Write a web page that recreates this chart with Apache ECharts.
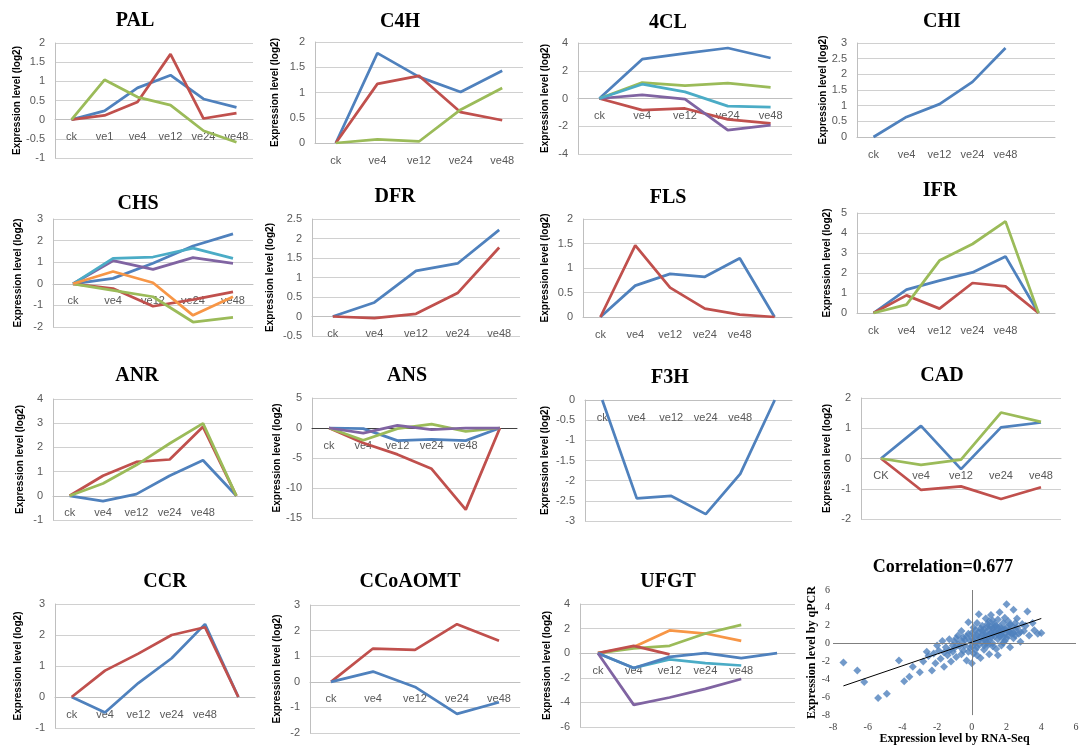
<!DOCTYPE html>
<html><head><meta charset="utf-8">
<script src="https://cdn.jsdelivr.net/npm/echarts@6/dist/echarts.min.js"></script>
<style>html,body{margin:0;padding:0;background:#fff}#c{width:1082px;height:746px}</style>
</head><body><div id="c"></div>
<script>
// ---- categories ----
const cats6 = ['ck','ve1','ve4','ve12','ve24','ve48'];
const cats5 = ['ck','ve4','ve12','ve24','ve48'];
const cats5e = ['ck','ve4','ve12','ve24','ve48',''];
const catsCAD = ['CK','ve4','ve12','ve24','ve48'];

// ---- series values (log2 expression) ----
const palBlue  = [0, 0.23, 0.83, 1.16, 0.54, 0.32];
const palRed   = [0, 0.11, 0.46, 1.71, 0.03, 0.17];
const palGreen = [0, 1.04, 0.59, 0.38, -0.29, -0.59];

const c4hBlue  = [0, 1.78, 1.31, 1.01, 1.43];
const c4hRed   = [0, 1.17, 1.33, 0.61, 0.45];
const c4hGreen = [0, 0.07, 0.03, 0.66, 1.09];

const cl4Blue   = [0, 2.83, 3.25, 3.64, 2.92];
const cl4Red    = [0, -0.84, -0.72, -1.51, -1.8];
const cl4Green  = [0, 1.15, 0.93, 1.1, 0.81];
const cl4Purple = [0, 0.26, -0.05, -2.28, -1.92];
const cl4Teal   = [0, 1.03, 0.48, -0.55, -0.62];

const chiBlue = [0, 0.64, 1.05, 1.76, 2.84, null];

const chsBlue   = [0, 0.25, 0.95, 1.75, 2.31];
const chsRed    = [0, -0.22, -1.04, -0.73, -0.37];
const chsGreen  = [0, -0.3, -0.6, -1.77, -1.55];
const chsPurple = [0, 1.07, 0.67, 1.21, 0.95];
const chsTeal   = [0, 1.18, 1.24, 1.65, 1.18];
const chsOrange = [0, 0.57, 0.05, -1.46, -0.6];

const dfrBlue = [0, 0.36, 1.17, 1.36, 2.22];
const dfrRed  = [0, -0.04, 0.07, 0.6, 1.77];

const flsBlue = [0, 0.64, 0.88, 0.82, 1.2, 0];
const flsRed  = [0, 1.46, 0.6, 0.17, 0.05, 0];

const ifrBlue  = [0, 1.17, 1.62, 2.03, 2.83, 0];
const ifrRed   = [0, 0.88, 0.22, 1.5, 1.33, 0];
const ifrGreen = [0, 0.42, 2.62, 3.45, 4.58, 0];

const anrBlue  = [0, -0.22, 0.07, 0.83, 1.47, 0];
const anrRed   = [0, 0.83, 1.4, 1.5, 2.85, 0];
const anrGreen = [0, 0.51, 1.27, 2.16, 2.99, 0];

const ansBlue   = [0, -0.1, -2.1, -1.9, -2.1, 0];
const ansRed    = [0, -2.5, -4.4, -6.8, -13.6, 0];
const ansGreen  = [0, -2.05, -0.1, 0.65, -0.55, 0];
const ansPurple = [0, -0.85, 0.45, -0.28, 0, 0];

const f3hBlue = [0, -2.44, -2.38, -2.83, -1.83, 0];

const cadBlue  = [0, 1.08, -0.35, 1.03, 1.19];
const cadRed   = [0, -1.04, -0.92, -1.34, -0.95];
const cadGreen = [0, -0.21, -0.04, 1.52, 1.21];

const ccrBlue = [0, -0.5, 0.45, 1.25, 2.35, 0];
const ccrRed  = [0, 0.85, 1.4, 2.0, 2.25, 0];

const ccoRed  = [0, 1.3, 1.25, 2.25, 1.6];
const ccoBlue = [0, 0.4, -0.2, -1.25, -0.8];

const ufgtBlue   = [0, -1.2, -0.3, 0, -0.4, 0];
const ufgtRed    = [0, 0.6, -0.1, null, null, null];
const ufgtGreen  = [0, 0.4, 0.6, 1.6, 2.3, null];
const ufgtPurple = [0, -4.2, -3.6, -2.9, -2.1, null];
const ufgtTeal   = [0, -1.2, -0.5, -0.8, -1.0, null];
const ufgtOrange = [0, 0.5, 1.85, 1.6, 1.0, null];

// scatter: [RNA-Seq, qPCR]
const corrPoints = [
 [-7.4,-2.1],[-6.6,-3.0],[-6.2,-4.3],[-5.4,-6.1],[-4.9,-5.6],[-3.9,-4.2],[-3.6,-3.7],[-3.4,-2.6],[-4.2,-1.9],[-3.0,-3.2],
 [-2.8,-2.0],[-2.5,-1.4],[-2.3,-3.0],[-2.1,-2.2],[-1.9,-0.8],[-1.8,-1.7],[-1.6,-2.6],[-1.5,-0.4],[-1.4,-1.3],[-1.3,0.5],
 [-1.2,-2.0],[-1.1,-0.9],[-1.0,0.2],[-0.9,-1.5],[-0.8,0.9],[-0.7,-0.3],[-0.6,1.4],[-0.5,-0.8],[-0.4,0.4],[-0.3,-1.9],
 [-0.2,1.1],[-0.1,-0.5],[0,0.6],[0.1,1.8],[0.1,-1.1],[0.2,0.1],[0.3,2.3],[0.3,-0.4],[0.4,1.3],[0.5,0.7],
 [0.5,-1.6],[0.6,2.0],[0.6,0.2],[0.7,-0.7],[0.7,1.6],[0.8,2.8],[0.8,0.9],[0.9,-0.2],[0.9,1.9],[1.0,0.4],
 [1.0,2.5],[1.0,-1.2],[1.1,1.2],[1.1,3.2],[1.2,0.0],[1.2,1.7],[1.3,2.2],[1.3,0.8],[1.4,-0.6],[1.4,1.4],
 [1.5,2.7],[1.5,0.5],[1.6,1.9],[1.6,3.5],[1.7,1.0],[1.7,-0.2],[1.8,2.3],[1.8,1.5],[1.9,0.3],[1.9,2.9],
 [2.0,1.8],[2.0,4.4],[2.1,0.9],[2.1,2.5],[2.2,1.3],[2.2,-0.4],[2.3,2.0],[2.4,0.6],[2.5,1.6],[2.6,2.8],
 [2.7,1.1],[2.8,0.2],[2.9,2.2],[3.0,1.4],[3.2,3.6],[3.3,0.9],[3.5,2.3],[3.6,1.5],[3.8,1.1],[4.0,1.2],
 [-0.2,2.4],[0.0,-2.2],[0.4,3.3],[1.5,-1.3],[2.4,3.8],[-2.0,-0.2],[-2.6,-0.9],[-1.7,0.3],[-0.9,0.6],[0.2,1.5],
 [0.8,1.2],[1.1,0.7],[1.3,1.9],[1.6,1.3],[1.9,1.1],[0.6,1.0],[0.3,0.9],[-0.4,-0.2],[1.2,2.6],[0.9,0.1],
 [-0.6,0.3],[-0.3,0.8],[0.0,1.2],[0.2,-0.7],[0.4,0.4],[0.7,0.5],[1.0,1.6],[1.2,1.0],[1.4,2.0],[1.7,1.7],
 [2.0,0.6],[2.3,1.1],[2.5,2.3],[1.5,1.1],[0.9,2.2],[0.5,1.7],[0.1,0.2],[-0.2,-0.9],[-1.0,-0.5],[-1.3,-0.8],
 [-0.8,-0.1],[-0.5,0.7],[-0.1,0.3],[0.2,0.8],[0.4,-0.1],[0.6,1.4],[0.8,0.4],[1.0,1.0],[1.1,1.9],[1.3,1.3],
 [1.5,1.7],[1.6,0.8],[1.8,0.7],[1.9,1.6],[2.1,1.4],[2.2,2.1],[2.4,1.2],[2.6,1.8],[2.8,1.3],[3.1,2.0],
 [-1.6,-1.0],[-2.2,-1.1],[-1.1,-0.2],[-0.6,-1.2],[0.0,-0.3],[0.3,-1.3],[0.7,-0.2],[1.2,-0.3],[1.8,0.1],[2.5,0.9]
];

const COL = {blue:'#4F81BD', red:'#C0504D', green:'#9BBB59', purple:'#8064A2', teal:'#4BACC6', orange:'#F79646'};

const panels = [
 {t:'PAL', cats:cats6, min:-1, max:2, iv:0.5, s:[[palBlue,'blue'],[palRed,'red'],[palGreen,'green']]},
 {t:'C4H', cats:cats5, min:0, max:2, iv:0.5, s:[[c4hBlue,'blue'],[c4hRed,'red'],[c4hGreen,'green']]},
 {t:'4CL', cats:cats5, min:-4, max:4, iv:2, s:[[cl4Blue,'blue'],[cl4Red,'red'],[cl4Green,'green'],[cl4Purple,'purple'],[cl4Teal,'teal']]},
 {t:'CHI', cats:cats5e, min:0, max:3, iv:0.5, s:[[chiBlue,'blue']]},
 {t:'CHS', cats:cats5, min:-2, max:3, iv:1, s:[[chsBlue,'blue'],[chsRed,'red'],[chsGreen,'green'],[chsPurple,'purple'],[chsTeal,'teal'],[chsOrange,'orange']]},
 {t:'DFR', cats:cats5, min:-0.5, max:2.5, iv:0.5, s:[[dfrBlue,'blue'],[dfrRed,'red']]},
 {t:'FLS', cats:cats5e, min:0, max:2, iv:0.5, s:[[flsBlue,'blue'],[flsRed,'red']]},
 {t:'IFR', cats:cats5e, min:0, max:5, iv:1, s:[[ifrBlue,'blue'],[ifrRed,'red'],[ifrGreen,'green']]},
 {t:'ANR', cats:cats5e, min:-1, max:4, iv:1, s:[[anrBlue,'blue'],[anrRed,'red'],[anrGreen,'green']]},
 {t:'ANS', cats:cats5e, min:-15, max:5, iv:5, dark:true, s:[[ansBlue,'blue'],[ansRed,'red'],[ansGreen,'green'],[ansPurple,'purple']]},
 {t:'F3H', cats:cats5e, min:-3, max:0, iv:0.5, s:[[f3hBlue,'blue']]},
 {t:'CAD', cats:catsCAD, min:-2, max:2, iv:1, s:[[cadBlue,'blue'],[cadRed,'red'],[cadGreen,'green']]},
 {t:'CCR', cats:cats5e, min:-1, max:3, iv:1, s:[[ccrBlue,'blue'],[ccrRed,'red']]},
 {t:'CCoAOMT', cats:cats5, min:-2, max:3, iv:1, s:[[ccoRed,'red'],[ccoBlue,'blue']]},
 {t:'UFGT', cats:cats5e, min:-6, max:4, iv:2, s:[[ufgtOrange,'orange'],[ufgtGreen,'green'],[ufgtRed,'red'],[ufgtTeal,'teal'],[ufgtBlue,'blue'],[ufgtPurple,'purple']]}
];

// layout: [left, top, width, height, titleX, titleY, nameGap]
const layout = [
 [55,43,198,115,130,17,33],[315,42,208,101,395,18,35],[578,43,214,111,663,19,28],[857,43,198,94,937,18,19],
 [53,219,200,108,133,200,30],[312,219,208,117,390,193,37],[583,219,209,98,663,194,33],[857,213,198,100,935,187,25],
 [53,399,200,121,132,372,28],[312,398,205,120,402,372,29],[585,400,207,121,665,374,35],[861,398,200,121,937,372,29],
 [55,604,200,124,160,578,32],[310,605,210,128,405,578,28],[580,604,215,123,663,578,28]
];

const grids=[], xAxes=[], yAxes=[], series=[], titles=[];
const tickFont = {color:'#595959', fontSize:11, fontFamily:'Liberation Sans'};
panels.forEach((p,i)=>{
  const L = layout[i];
  grids.push({left:L[0], top:L[1], width:L[2], height:L[3], containLabel:false});
  titles.push({text:p.t, left:L[4], top:L[5]-11, textAlign:'center',
    textStyle:{fontFamily:'Liberation Serif', fontWeight:'bold', fontSize:20, color:'#000'}});
  // category axis sits on the value 0 line (Excel style)
  const zeroShift = -L[3] * (Math.min(Math.max(0, p.min), p.max) - p.min) / (p.max - p.min);
  xAxes.push({gridIndex:i, type:'category', data:p.cats, boundaryGap:true, position:'bottom', offset:zeroShift,
    axisLine:{onZero:false, lineStyle:{color:p.dark?'#404040':'#BFBFBF', width:1}},
    axisTick:{show:false}, splitLine:{show:false},
    axisLabel:Object.assign({interval:0, margin:12}, tickFont)});
  yAxes.push({gridIndex:i, type:'value', min:p.min, max:p.max, interval:p.iv,
    axisLine:{show:true, lineStyle:{color:'#BFBFBF'}}, axisTick:{show:false},
    splitLine:{show:true, lineStyle:{color:'#D0D0D0', width:1}},
    axisLabel:Object.assign({margin:10}, tickFont),
    name:'Expression level (log2)', nameLocation:'middle', nameGap:L[6],
    nameTextStyle:{fontFamily:'Liberation Sans Narrow, Liberation Sans', fontWeight:'bold', fontSize:10, color:'#000'}});
  p.s.forEach(([arr,c])=>{
    series.push({type:'line', xAxisIndex:i, yAxisIndex:i, data:arr, symbol:'none',
      connectNulls:false, lineStyle:{color:COL[c], width:2.75}, itemStyle:{color:COL[c]}, silent:true, z:3});
  });
});

// correlation scatter panel
const si = panels.length;
grids.push({left:833, top:590, width:243, height:132});
titles.push({text:'Correlation=0.677', left:938, top:553, textAlign:'center',
  textStyle:{fontFamily:'Liberation Serif', fontWeight:'bold', fontSize:18, color:'#000'}});
xAxes.push({gridIndex:si, type:'value', min:-8, max:6, interval:2,
  axisLine:{onZero:false, show:false}, axisTick:{show:false}, splitLine:{show:false},
  axisLabel:{color:'#404040', fontSize:10, fontFamily:'Liberation Serif', margin:7},
  name:'Expression level by RNA-Seq', nameLocation:'middle', nameGap:15,
  nameTextStyle:{fontFamily:'Liberation Serif', fontWeight:'bold', fontSize:12, color:'#000'}});
yAxes.push({gridIndex:si, type:'value', min:-8, max:6, interval:2,
  axisLine:{onZero:false, show:false}, axisTick:{show:false}, splitLine:{show:false},
  axisLabel:{color:'#404040', fontSize:10, fontFamily:'Liberation Serif', margin:3},
  name:'Expression level by qPCR', nameLocation:'middle', nameGap:14,
  nameTextStyle:{fontFamily:'Liberation Serif', fontWeight:'bold', fontSize:12, color:'#000'}});
series.push({type:'scatter', xAxisIndex:si, yAxisIndex:si, data:corrPoints, symbol:'diamond', symbolSize:8,
  itemStyle:{color:'#4F81BD'}, silent:true,
  markLine:{silent:true, symbol:'none', label:{show:false}, lineStyle:{color:'#7F7F7F', width:1, type:'solid'},
    data:[{xAxis:0},{yAxis:0}]}});
// least-squares trend line computed from the points
(function(){
  const n=corrPoints.length; let sx=0,sy=0,sxx=0,sxy=0, mn=Infinity, mx=-Infinity;
  corrPoints.forEach(([x,y])=>{sx+=x;sy+=y;sxx+=x*x;sxy+=x*y;mn=Math.min(mn,x);mx=Math.max(mx,x);});
  const b=(n*sxy-sx*sy)/(n*sxx-sx*sx), a=(sy-b*sx)/n;
  series.push({type:'line', xAxisIndex:si, yAxisIndex:si, data:[[mn,a+b*mn],[mx,a+b*mx]], symbol:'none',
    lineStyle:{color:'#000', width:1}, silent:true, z:4});
})();

const chart = echarts.init(document.getElementById('c'), null, {renderer:'canvas'});
chart.setOption({animation:false, backgroundColor:'#fff', title:titles, grid:grids, xAxis:xAxes, yAxis:yAxes, series:series});
</script></body></html>
